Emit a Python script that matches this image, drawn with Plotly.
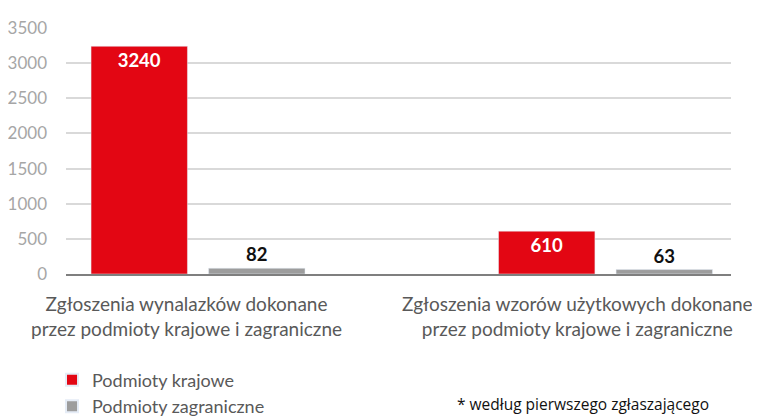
import plotly.graph_objects as go

categories = [
    "Zgłoszenia wynalazków dokonane<br>przez podmioty krajowe i zagraniczne",
    "Zgłoszenia wzorów użytkowych dokonane<br>przez podmioty krajowe i zagraniczne",
]
series_names = ["Podmioty krajowe", "Podmioty zagraniczne"]
krajowe = [3240, 610]
zagraniczne = [82, 63]
y_ticks = [0, 500, 1000, 1500, 2000, 2500, 3000, 3500]
footnote = "* według pierwszego zgłaszającego"

RED = "#e30613"
GRAY = "#9d9d9d"
FONT = "Lato"

x_idx = list(range(len(categories)))

fig = go.Figure()
fig.add_trace(go.Bar(
    x=x_idx, y=krajowe, name=series_names[0], marker_color=RED,
    text=[str(v) for v in krajowe], textposition="inside",
    insidetextanchor="end", textangle=0,
    textfont=dict(family=FONT, size=18.5, color="white", weight="bold"),
))
fig.add_trace(go.Bar(
    x=x_idx, y=zagraniczne, name=series_names[1], marker_color=GRAY,
    text=[str(v) for v in zagraniczne], textposition="outside", textangle=0,
    textfont=dict(family=FONT, size=18.5, color="#111111", weight="bold"),
    cliponaxis=False,
))

# the page body has an 8px default margin, so the figure is sized 752x408
fig.update_layout(
    width=752, height=408,
    margin=dict(l=58, r=29, t=20, b=142, autoexpand=False),
    paper_bgcolor="white", plot_bgcolor="white",
    barmode="group", bargap=0.423, bargroupgap=0.18,
    font=dict(family=FONT, color="#595959"),
    showlegend=True,
    legend=dict(
        orientation="v", x=-0.021, xanchor="left", y=-0.356, yanchor="top",
        font=dict(family=FONT, size=18, color="#595959"),
        tracegroupgap=0, itemsizing="constant", bgcolor="rgba(0,0,0,0)",
    ),
    uniformtext=dict(mode=False),
)
fig.update_xaxes(
    range=[-0.324, 1.308], showticklabels=False, automargin=False,
    showline=True, linecolor="#7f7f7f", linewidth=2,
    showgrid=False, ticks="",
)
fig.update_yaxes(
    range=[0, 3500], tickvals=y_ticks, automargin=False,
    tickfont=dict(family=FONT, size=17, color="#a6a6a6"),
    showgrid=True, gridcolor="#d9d9d9", gridwidth=1.5,
    zeroline=False, showline=False, ticks="", ticklabelstandoff=18,
)
label_shifts = [-12, -28]
for i, cat in enumerate(categories):
    fig.add_annotation(
        text=cat, xref="x", yref="paper", x=x_idx[i], y=0,
        xanchor="center", yanchor="top", yshift=-16, xshift=label_shifts[i],
        showarrow=False, align="center",
        font=dict(family=FONT, size=19, color="#595959"),
    )
fig.add_annotation(
    text=footnote, xref="paper", yref="paper", x=0.777, y=-0.530,
    xanchor="center", yanchor="middle", showarrow=False,
    font=dict(family="Open Sans", size=15.5, color="#111111"),
)

fig.write_html("out.html")
